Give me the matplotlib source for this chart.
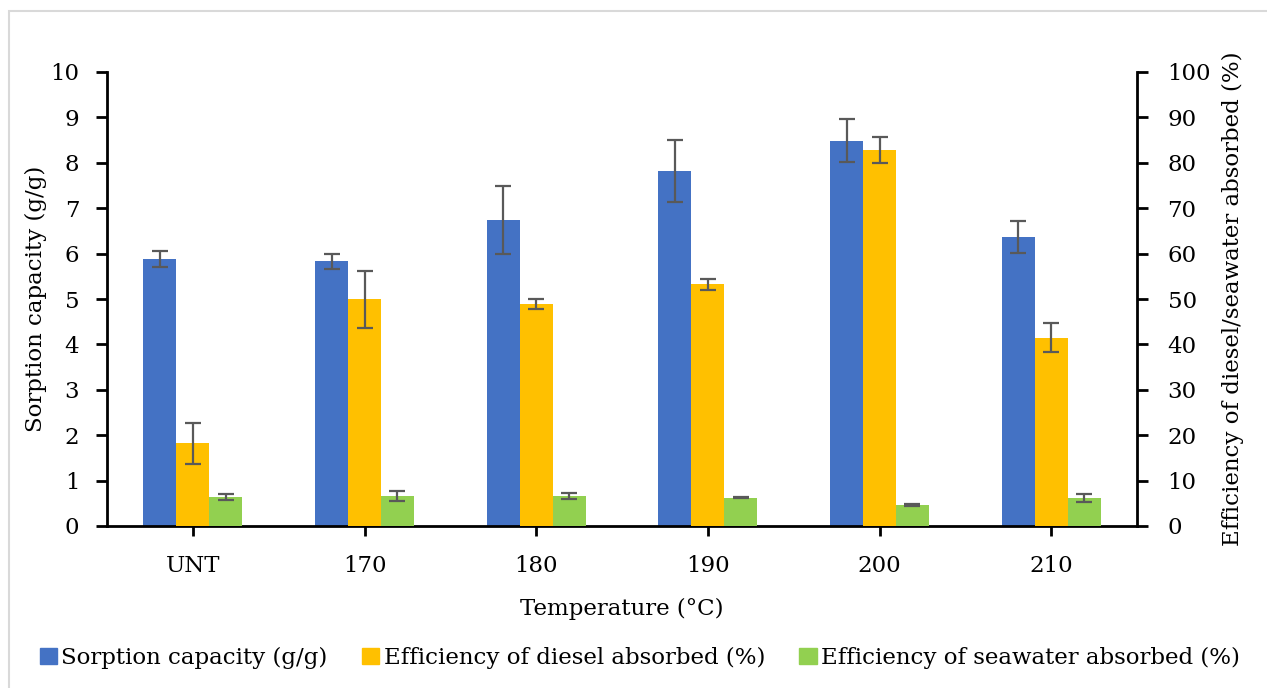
import matplotlib
matplotlib.use("Agg")
import matplotlib.pyplot as plt
import numpy as np
from matplotlib.patches import Rectangle, Patch

# Sorption data per treatment temperature
temps = ["UNT", "170", "180", "190", "200", "210"]
sorption = [5.88, 5.83, 6.74, 7.82, 8.49, 6.36]          # g/g
sorption_err = [0.17, 0.16, 0.75, 0.68, 0.48, 0.35]
diesel_eff = [18.2, 49.9, 49.0, 53.2, 82.8, 41.5]         # %
diesel_err = [4.5, 6.3, 1.1, 1.3, 2.9, 3.2]
seawater_eff = [6.4, 6.6, 6.7, 6.2, 4.6, 6.2]             # %
seawater_err = [0.65, 1.0, 0.65, 0.1, 0.15, 0.85]

BLUE = "#4472C4"
ORANGE = "#FFC000"
GREEN = "#92D050"
ERR = "#595959"

plt.rcParams["font.family"] = ["DejaVu Serif"]
plt.rcParams["font.size"] = 16.5

W, H = 1267, 688
fig = plt.figure(figsize=(W / 100, H / 100), dpi=100)

# light grey frame round the chart area
fig.patches.append(Rectangle((9 / W, -0.1), 1.2, 1 - 11 / H + 0.1,
                             transform=fig.transFigure, fill=False,
                             edgecolor="#D9D9D9", linewidth=1.5))

ax = fig.add_axes([107 / W, 1 - 526 / H, 1030 / W, 454 / H])
ax2 = ax.twinx()

x = np.arange(len(temps))
bw = 0.192
err_kw = dict(ecolor=ERR, elinewidth=1.6, capsize=6, capthick=1.6)

ax.bar(x - bw, sorption, bw, color=BLUE, yerr=sorption_err, error_kw=err_kw)
ax2.bar(x, diesel_eff, bw, color=ORANGE, yerr=diesel_err, error_kw=err_kw)
ax2.bar(x + bw, seawater_eff, bw, color=GREEN, yerr=seawater_err,
        error_kw=err_kw)

ax.set_xlim(-0.5, len(temps) - 0.5)
ax.set_ylim(0, 10)
ax2.set_ylim(0, 100)
ax.set_yticks(np.arange(0, 11, 1))
ax2.set_yticks(np.arange(0, 101, 10))
ax.set_xticks(x)
ax.set_xticklabels(temps)

for a in (ax, ax2):
    for s in a.spines.values():
        s.set_linewidth(2)
        s.set_color("black")
    a.spines["top"].set_visible(False)
ax.spines["right"].set_visible(False)
ax2.spines["left"].set_visible(False)
ax2.spines["bottom"].set_visible(False)

ax.tick_params(axis="y", direction="out", length=8, width=2, pad=12)
ax.tick_params(axis="x", direction="out", length=7, width=2, pad=14)
ax2.tick_params(axis="y", direction="out", length=8, width=2, pad=14)

ax.set_xlabel("Temperature (°C)", labelpad=15)
ax.set_ylabel("Sorption capacity (g/g)", labelpad=2)
ax2.set_ylabel("Efficiency of diesel/seawater absorbed (%)", labelpad=8)

handles = [Patch(color=BLUE), Patch(color=ORANGE), Patch(color=GREEN)]
labels = ["Sorption capacity (g/g)", "Efficiency of diesel absorbed (%)",
          "Efficiency of seawater absorbed (%)"]
fig.legend(handles, labels, loc="center", bbox_to_anchor=(0.505, 1 - 658 / H),
           ncol=3, frameon=False, handlelength=0.75, handleheight=0.75,
           handletextpad=0.2, columnspacing=1.5)

fig.savefig("out.png", dpi=100)
